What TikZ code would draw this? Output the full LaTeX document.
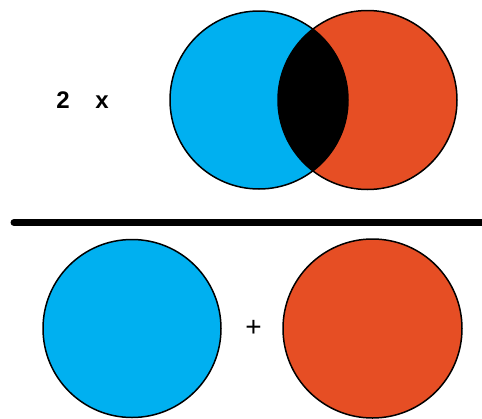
\documentclass[tikz,border=0pt]{standalone}
\usepackage{fontspec}
\setmainfont{Liberation Sans}
\definecolor{cblue}{HTML}{00B0F0}
\definecolor{cred}{HTML}{E64E24}
\begin{document}
\begin{tikzpicture}[x=1pt,y=-1pt,
  circ/.style={draw=black,line width=1.5pt},
  lbl/.style={inner sep=0pt,font=\fontsize{24}{26}\selectfont\bfseries},
  plus/.style={inner sep=0pt,font=\fontsize{28}{30}\selectfont}]
\useasboundingbox (0,0) rectangle (482,418);
% top Venn
\coordinate (cb) at (259,100);
\coordinate (cr) at (367.5,100);
\fill[cblue] (cb) circle (89);
\fill[cred] (cr) circle (89.5);
\begin{scope}
  \clip (cb) circle (89);
  \fill[black] (cr) circle (89.5);
\end{scope}
\draw[circ] (cb) circle (89);
\draw[circ] (cr) circle (89.5);
\node[lbl] (two) at (63,100) {2};
\node[lbl] (times) at (102,102) {x};
% fraction bar
\coordinate (barL) at (14,222.5);
\coordinate (barR) at (490,222.5);
\draw[line width=7pt,line cap=round] (barL) -- (barR);
% bottom circles
\node[circ,circle,fill=cblue,minimum size=178pt,inner sep=0pt] (b1) at (132,328.5) {};
\node[circ,circle,fill=cred,minimum size=179pt,inner sep=0pt] (b2) at (372.5,328.5) {};
\node[plus] (p) at (253.5,328.5) {+};
\end{tikzpicture}
\end{document}
